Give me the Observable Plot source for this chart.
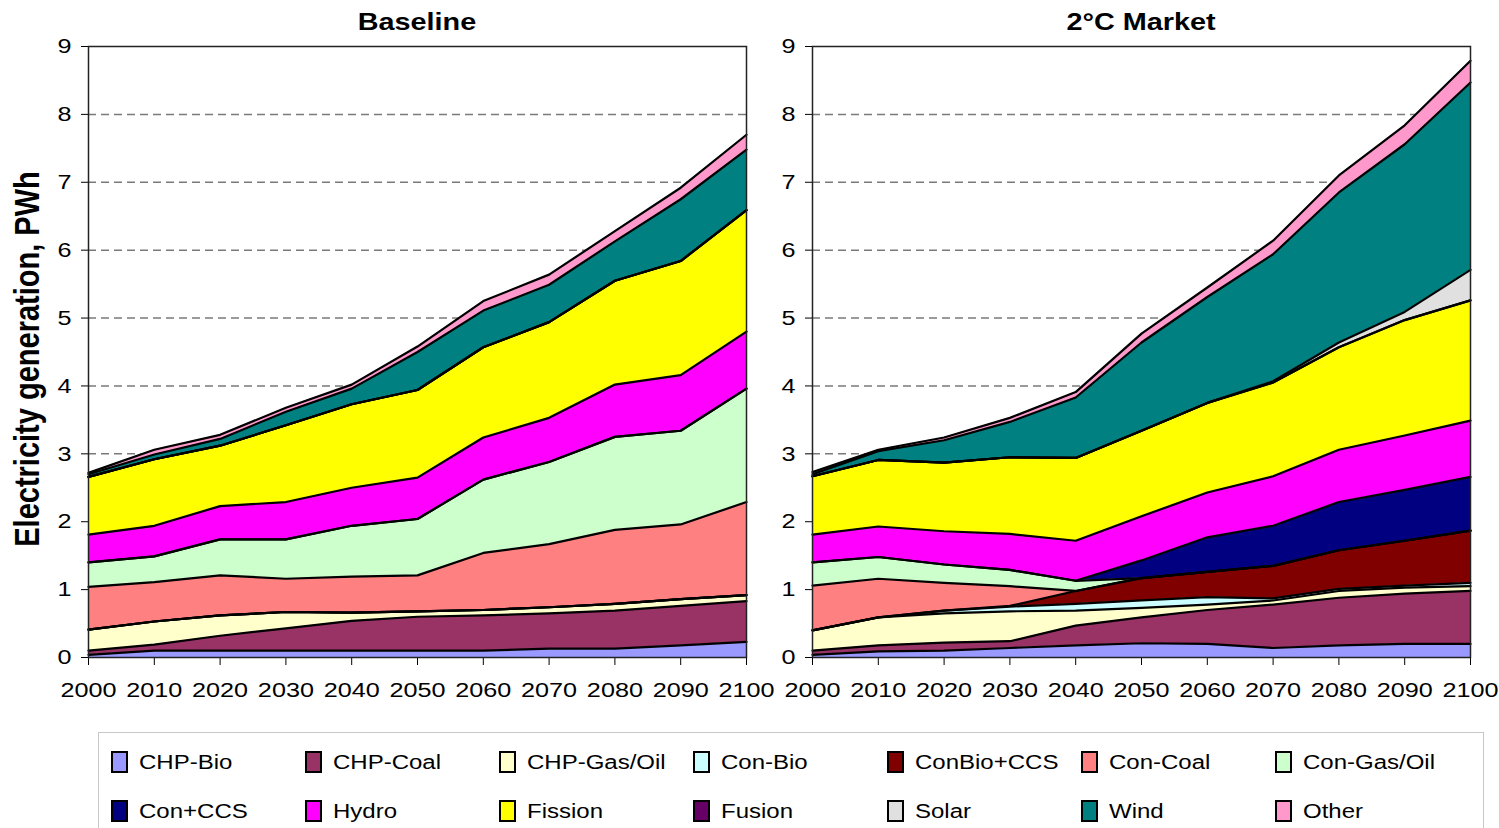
<!DOCTYPE html>
<html>
<head>
<meta charset="utf-8">
<script src="https://cdn.jsdelivr.net/npm/d3@7"></script>
<script src="https://cdn.jsdelivr.net/npm/@observablehq/plot@0.6"></script>
<style>
  body { margin: 0; background: #fff; font-family: "Liberation Sans", Arial, sans-serif; }
  #root { position: relative; width: 1499px; height: 828px; overflow: hidden; background: #fff; }
  .panel { position: absolute; top: 0; }
  .title { position: absolute; top: 7px; font-weight: bold; font-size: 24px; line-height: 30px;
           white-space: nowrap; transform: translateX(-50%) scaleX(1.2); color: #000; }
  .ylabel { position: absolute; left: 28px; top: 359px; font-weight: bold; font-size: 29px; line-height: 1;
            white-space: nowrap; transform: translate(-50%, -50%) rotate(-90deg) scale(1, 1.2); color: #000; }
  .legendbox { position: absolute; left: 98px; top: 732px; width: 1386px; height: 120px;
               border: 1px solid #c8c8c8; box-sizing: border-box; }
  .sw { position: absolute; width: 17px; height: 22px; border: 2px solid #000; box-sizing: border-box; }
  .lt { position: absolute; font-size: 20px; line-height: 24px; white-space: nowrap; color: #000;
        transform: scaleX(1.2); transform-origin: left center; }
</style>
</head>
<body>
<div id="root"></div>
<script>
// ---- data ----
const years = [2000, 2010, 2020, 2030, 2040, 2050, 2060, 2070, 2080, 2090, 2100];
const yTicks = [0, 1, 2, 3, 4, 5, 6, 7, 8, 9];
const gridValues = [1, 2, 3, 4, 5, 6, 7, 8];
const panelTitles = ["Baseline", "2°C Market"];
const yLabel = "Electricity generation, PWh";
const seriesNames = ["CHP-Bio", "CHP-Coal", "CHP-Gas/Oil", "Con-Bio", "ConBio+CCS", "Con-Coal", "Con-Gas/Oil",
                     "Con+CCS", "Hydro", "Fission", "Fusion", "Solar", "Wind", "Other"];
const colors = ["#9999FF", "#993366", "#FFFFCC", "#CCFFFF", "#800000", "#FF8080", "#CCFFCC",
                "#000080", "#FF00FF", "#FFFF00", "#660066", "#E0E0E0", "#008080", "#FF99CC"];

// rows follow seriesNames, columns follow years (PWh)
const baselineValues = [
  [0.04, 0.10, 0.10, 0.10, 0.10, 0.10, 0.10, 0.13, 0.13, 0.18, 0.23], // CHP-Bio
  [0.06, 0.09, 0.22, 0.33, 0.44, 0.50, 0.52, 0.52, 0.56, 0.58, 0.60], // CHP-Coal
  [0.31, 0.34, 0.30, 0.24, 0.12, 0.08, 0.08, 0.09, 0.10, 0.10, 0.09], // CHP-Gas/Oil
  [0, 0, 0, 0, 0, 0, 0, 0, 0, 0, 0],                                  // Con-Bio
  [0, 0, 0, 0, 0, 0, 0, 0, 0, 0, 0],                                  // ConBio+CCS
  [0.63, 0.58, 0.59, 0.49, 0.53, 0.53, 0.84, 0.93, 1.09, 1.10, 1.37], // Con-Coal
  [0.36, 0.38, 0.53, 0.58, 0.75, 0.83, 1.08, 1.21, 1.37, 1.38, 1.67], // Con-Gas/Oil
  [0, 0, 0, 0, 0, 0, 0, 0, 0, 0, 0],                                  // Con+CCS
  [0.41, 0.45, 0.49, 0.55, 0.56, 0.61, 0.62, 0.65, 0.77, 0.82, 0.84], // Hydro
  [0.85, 0.98, 0.89, 1.13, 1.23, 1.29, 1.33, 1.41, 1.53, 1.68, 1.79], // Fission
  [0, 0, 0, 0, 0, 0, 0, 0, 0, 0, 0],                                  // Fusion
  [0, 0, 0, 0, 0, 0, 0, 0, 0, 0, 0],                                  // Solar
  [0.04, 0.07, 0.10, 0.20, 0.23, 0.56, 0.54, 0.55, 0.58, 0.91, 0.89], // Wind
  [0.02, 0.07, 0.06, 0.06, 0.06, 0.08, 0.14, 0.15, 0.15, 0.17, 0.22]  // Other
];
const marketValues = [
  [0.04, 0.09, 0.10, 0.14, 0.18, 0.21, 0.20, 0.14, 0.18, 0.20, 0.20], // CHP-Bio
  [0.06, 0.09, 0.12, 0.10, 0.29, 0.38, 0.50, 0.64, 0.70, 0.74, 0.78], // CHP-Coal
  [0.30, 0.41, 0.43, 0.44, 0.22, 0.14, 0.08, 0.06, 0.10, 0.09, 0.07], // CHP-Gas/Oil
  [0, 0, 0.04, 0.07, 0.10, 0.11, 0.11, 0.03, 0.03, 0.03, 0.05],       // Con-Bio
  [0, 0, 0, 0.01, 0.19, 0.33, 0.37, 0.48, 0.57, 0.66, 0.77],          // ConBio+CCS
  [0.66, 0.57, 0.41, 0.29, 0, 0, 0, 0, 0, 0, 0],                      // Con-Coal
  [0.34, 0.32, 0.27, 0.24, 0.15, 0, 0, 0, 0, 0, 0],                   // Con-Gas/Oil
  [0, 0, 0, 0, 0, 0.26, 0.51, 0.59, 0.71, 0.75, 0.79],                // Con+CCS
  [0.41, 0.45, 0.49, 0.53, 0.59, 0.65, 0.66, 0.73, 0.77, 0.80, 0.83], // Hydro
  [0.86, 0.98, 1.01, 1.13, 1.22, 1.26, 1.32, 1.38, 1.51, 1.70, 1.77], // Fission
  [0, 0, 0, 0, 0, 0, 0, 0, 0, 0, 0],                                  // Fusion
  [0, 0, 0, 0, 0, 0, 0, 0.02, 0.07, 0.12, 0.45],                      // Solar
  [0.03, 0.13, 0.33, 0.52, 0.89, 1.30, 1.56, 1.87, 2.21, 2.47, 2.76], // Wind
  [0.03, 0.02, 0.04, 0.06, 0.08, 0.13, 0.14, 0.20, 0.25, 0.28, 0.32]  // Other
];

// ---- drawing ----
const root = document.getElementById("root");

function stretchTexts(svg) {
  svg.querySelectorAll("text").forEach(t => {
    const x = +t.getAttribute("x") || 0, y = +t.getAttribute("y") || 0;
    const tr = t.getAttribute("transform") || "";
    t.setAttribute("transform", `${tr} translate(${x},${y}) scale(1.2,1) translate(${-x},${-y})`);
  });
}

function panel(values, leftPx, title) {
  const rows = [];
  seriesNames.forEach((s, i) => years.forEach((yr, j) => rows.push({series: s, year: yr, value: values[i][j]})));
  const svg = Plot.plot({
    width: 771, height: 710,
    marginLeft: 88, marginRight: 25, marginTop: 46, marginBottom: 53,
    style: {background: "transparent", fontFamily: "Liberation Sans, Arial, sans-serif", fontSize: "21px", color: "#000", overflow: "visible"},
    x: {domain: [2000, 2100], ticks: years, tickFormat: d => String(d), tickSize: 8, tickPadding: 17, label: null},
    y: {domain: [0, 9], ticks: yTicks, tickSize: 7, tickPadding: 10, label: null},
    color: {domain: seriesNames, range: colors},
    marks: [
      Plot.ruleY(gridValues, {stroke: "#7a7a7a", strokeDasharray: "8,5", strokeWidth: 1.5}),
      Plot.areaY(rows, {x: "year", y: "value", z: "series", fill: "series", order: seriesNames}),
      Plot.lineY(rows, Plot.stackY2({x: "year", y: "value", z: "series", order: seriesNames, stroke: "#000", strokeWidth: 2.2})),
      Plot.frame({stroke: "#222", strokeWidth: 1.5})
    ]
  });
  stretchTexts(svg);
  const wrap = document.createElement("div");
  wrap.className = "panel";
  wrap.style.left = leftPx + "px";
  wrap.appendChild(svg);
  root.appendChild(wrap);

  const t = document.createElement("div");
  t.className = "title";
  t.textContent = title;
  t.style.left = (leftPx + 88 + (771 - 88 - 25) / 2) + "px";
  root.appendChild(t);
}

panel(baselineValues, 0, panelTitles[0]);
panel(marketValues, 724, panelTitles[1]);

const yl = document.createElement("div");
yl.className = "ylabel";
yl.textContent = yLabel;
root.appendChild(yl);

// legend
const box = document.createElement("div");
box.className = "legendbox";
root.appendChild(box);
seriesNames.forEach((name, i) => {
  const col = i % 7, row = Math.floor(i / 7);
  const sx = 111 + col * 194, cy = 762 + row * 49;
  const sw = document.createElement("div");
  sw.className = "sw";
  sw.style.left = sx + "px";
  sw.style.top = (cy - 11) + "px";
  sw.style.background = colors[i];
  root.appendChild(sw);
  const lt = document.createElement("div");
  lt.className = "lt";
  lt.style.left = (sx + 28) + "px";
  lt.style.top = (cy - 12) + "px";
  lt.textContent = name;
  root.appendChild(lt);
});
</script>
</body>
</html>
